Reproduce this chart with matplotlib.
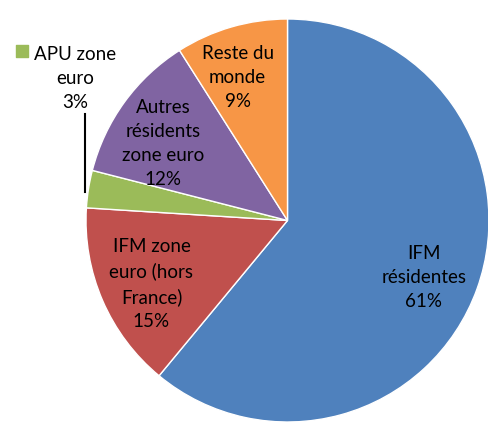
import matplotlib.pyplot as plt

# part de la détention (en %)
labels = ['IFM\nrésidentes', 'IFM zone\neuro (hors\nFrance)', 'APU zone\neuro',
          'Autres\nrésidents\nzone euro', 'Reste du\nmonde']
values = [61, 15, 3, 12, 9]
colors = ['#4F81BD', '#C0504D', '#9BBB59', '#8064A2', '#F79646']
# position des étiquettes (unités du rayon)
label_xy = [(0.677, -0.285), (-0.675, -0.315), (-1.052, 0.707),
            (-0.618, 0.383), (-0.248, 0.712)]

plt.rcParams['font.family'] = ['Lato', 'DejaVu Sans']

fig = plt.figure(figsize=(4.89, 4.22), dpi=100)
ax = fig.add_axes([86 / 489, 0, 403 / 489, 403 / 422])

wedges, _ = ax.pie(values, colors=colors, startangle=90, counterclock=False,
                   radius=1.0, wedgeprops=dict(edgecolor='white', linewidth=1))
for w in wedges:
    w.set_clip_on(False)

fs = 13.5
ls = 1.5
for lab, v, (x, y) in zip(labels, values, label_xy):
    ax.text(x, y, '%s\n%d%%' % (lab, v), ha='center', va='center',
            fontsize=fs, linespacing=ls, color='black', clip_on=False)

# ligne de rappel + clé de légende pour APU
ax.plot([-1.007, -1.007], [0.14, 0.53], color='black', lw=1.5, clip_on=False)
ax.scatter([-1.319], [0.843], marker='s', s=85, color=colors[2], clip_on=False)

ax.set_xlim(-1, 1)
ax.set_ylim(-1, 1)
ax.set_aspect('equal')
ax.axis('off')

fig.savefig('out.png', dpi=100)
